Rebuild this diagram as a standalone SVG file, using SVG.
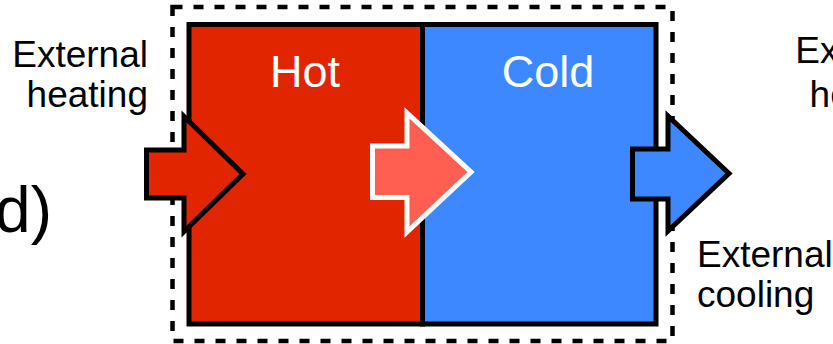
<svg xmlns="http://www.w3.org/2000/svg" width="833" height="344" viewBox="0 0 833 344">
<style>
.lbl{font-family:"Liberation Sans",Arial,Helvetica,sans-serif;font-size:37px;fill:#000}
.big{font-family:"Liberation Sans",Arial,Helvetica,sans-serif;font-size:45px;fill:#fff;text-anchor:middle}
.arr{stroke:#000;stroke-width:5;stroke-linejoin:miter}
</style>
<rect width="833" height="344" fill="#fff"/>
<g id="boundary">
<rect x="172.5" y="7" width="500" height="334" fill="none" stroke="#000" stroke-width="4.5" stroke-dasharray="10,11"/>
</g>
<g id="hot">
<rect x="189" y="24.5" width="233.5" height="299.5" fill="#E12500" stroke="#000" stroke-width="5"/>
<text class="big" x="305" y="87">Hot</text>
</g>
<g id="cold">
<rect x="422.5" y="24.5" width="233.5" height="299.5" fill="#3D88FF" stroke="#000" stroke-width="5"/>
<text class="big" x="548" y="87">Cold</text>
</g>
<g id="connectors">
<path class="arr" fill="#E12500" d="M146.5,150 H184 V116.5 L243,174 L184,231.5 V198 H146.5 Z"/>
<path fill="#FF5F50" stroke="#fff" stroke-width="5" d="M372.5,146 H407 V113 L471,172 L407,232 V197.5 H372.5 Z"/>
<path class="arr" fill="#3D88FF" d="M632.5,149 H668 V116 L729,173.5 L668,231 V199 H632.5 Z"/>
</g>
<g id="labels">
<text class="lbl" x="148" y="67" text-anchor="end">External</text>
<text class="lbl" x="148" y="107" text-anchor="end">heating</text>
<text class="lbl" x="931" y="63" text-anchor="end">External</text>
<text class="lbl" x="931" y="107" text-anchor="end">heating</text>
<text class="lbl" x="697" y="267">External</text>
<text class="lbl" x="697" y="307">cooling</text>
<text font-family="Liberation Sans,Arial,sans-serif" font-size="64" x="52" y="232" text-anchor="end">d)</text>
</g>
</svg>
